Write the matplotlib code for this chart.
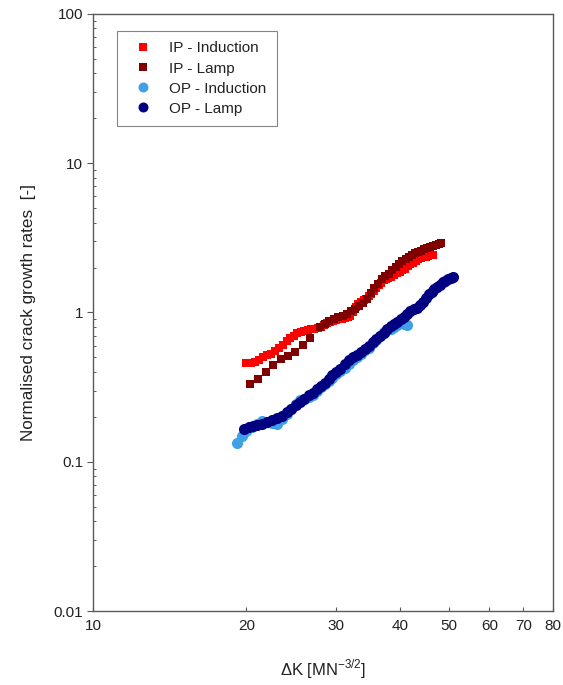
import matplotlib
matplotlib.use("Agg")
import matplotlib.pyplot as plt
from matplotlib.ticker import FixedLocator, FixedFormatter, LogLocator, NullFormatter, NullLocator

plt.rcParams['font.family'] = ['Liberation Sans', 'DejaVu Sans']
plt.rcParams['mathtext.fontset'] = 'custom'
plt.rcParams['mathtext.rm'] = 'Liberation Sans'

# IP - Induction
ip_ind_dk = [20.0, 20.4, 20.8, 21.2, 21.6, 22.0, 22.4, 22.8, 23.2, 23.6, 24.0, 24.4, 24.8,
             25.2, 25.6, 26.0, 26.4, 26.8, 27.2, 27.6, 28.0, 28.4, 28.8, 29.2, 29.6, 30.0,
             30.4, 30.8, 31.2, 31.6, 32.0, 32.4, 32.8, 33.2, 33.6, 34.0, 34.4, 34.8, 35.2,
             35.6, 36.0, 36.4, 36.8, 37.2, 37.6, 38.0, 38.5, 39.0, 39.5, 40.0, 40.5, 41.0,
             41.5, 42.0, 42.5, 43.0, 43.5, 44.0, 44.5, 45.0, 45.5, 46.0, 46.5]
ip_ind_rate = [0.46, 0.46, 0.465, 0.48, 0.50, 0.52, 0.53, 0.55, 0.58, 0.61, 0.645, 0.67, 0.70,
               0.73, 0.745, 0.755, 0.765, 0.77, 0.78, 0.785, 0.80, 0.82, 0.845, 0.86, 0.875, 0.89,
               0.90, 0.91, 0.92, 0.93, 0.95, 1.00, 1.09, 1.14, 1.18, 1.21, 1.24, 1.28, 1.33,
               1.40, 1.46, 1.52, 1.58, 1.64, 1.68, 1.71, 1.74, 1.79, 1.84, 1.88, 1.92, 1.97,
               2.04, 2.10, 2.16, 2.22, 2.27, 2.31, 2.34, 2.37, 2.40, 2.42, 2.43]

# IP - Lamp
ip_lamp_dk = [20.3, 21.1, 21.9, 22.6, 23.4, 24.1, 24.9, 25.8, 26.7, 27.9, 28.5, 29.1, 29.7,
              30.3, 30.9, 31.5, 32.1, 32.7, 33.3, 33.9, 34.5, 35.1, 35.7, 36.3, 36.9, 37.5,
              38.1, 38.7, 39.3, 39.9, 40.5, 41.1, 41.7, 42.3, 42.9, 43.5, 44.1, 44.7, 45.3,
              45.9, 46.5, 47.1, 47.7, 48.3]
ip_lamp_rate = [0.332, 0.358, 0.399, 0.445, 0.488, 0.51, 0.545, 0.605, 0.675, 0.80, 0.84, 0.875, 0.90,
                0.93, 0.95, 0.98, 1.02, 1.06, 1.10, 1.15, 1.24, 1.36, 1.45, 1.55, 1.68, 1.75,
                1.82, 1.92, 2.02, 2.12, 2.20, 2.28, 2.36, 2.43, 2.50, 2.55, 2.60, 2.65, 2.70,
                2.74, 2.78, 2.83, 2.88, 2.92]

# OP - Induction
op_ind_dk = [19.2, 19.6, 20.0, 20.5, 21.0, 21.5, 22.0, 22.5, 23.0, 23.5, 24.0, 24.5, 25.0,
             25.5, 26.0, 26.5, 27.0, 27.5, 28.0, 28.5, 29.0, 29.5, 30.0, 30.6, 31.2, 31.8,
             32.4, 33.0, 33.6, 34.2, 34.8, 35.4, 36.0, 36.6, 37.2, 37.8, 38.4, 39.0, 39.6,
             40.2, 40.8, 41.4]
op_ind_rate = [0.134, 0.148, 0.160, 0.170, 0.180, 0.188, 0.186, 0.182, 0.180, 0.192, 0.208, 0.225, 0.245,
               0.258, 0.262, 0.270, 0.282, 0.300, 0.318, 0.330, 0.345, 0.365, 0.385, 0.405, 0.425, 0.455,
               0.48, 0.50, 0.53, 0.56, 0.58, 0.62, 0.65, 0.70, 0.74, 0.76, 0.78, 0.80, 0.83,
               0.86, 0.84, 0.82]

# OP - Lamp
op_lamp_dk = [19.8, 20.2, 20.6, 21.0, 21.5, 22.0, 22.5, 23.0, 23.5, 24.0, 24.5, 25.0, 25.5,
              26.0, 26.5, 27.0, 27.5, 28.0, 28.5, 29.0, 29.5, 30.0, 30.6, 31.2, 31.8, 32.4,
              33.0, 33.6, 34.2, 34.8, 35.4, 36.0, 36.6, 37.2, 37.8, 38.4, 39.0, 39.6, 40.2,
              40.8, 41.4, 42.0, 42.6, 43.2, 43.8, 44.4, 45.0, 45.6, 46.2, 46.8, 47.4, 48.0,
              48.6, 49.2, 49.8, 50.4, 51.0]
op_lamp_rate = [0.166, 0.170, 0.173, 0.176, 0.180, 0.185, 0.190, 0.196, 0.204, 0.214, 0.226, 0.240, 0.252,
                0.265, 0.278, 0.291, 0.305, 0.320, 0.337, 0.36, 0.38, 0.40, 0.42, 0.45, 0.48, 0.50,
                0.52, 0.545, 0.57, 0.60, 0.63, 0.66, 0.70, 0.73, 0.77, 0.81, 0.84, 0.87, 0.90,
                0.94, 0.98, 1.02, 1.05, 1.08, 1.12, 1.18, 1.25, 1.32, 1.38, 1.44, 1.49, 1.54,
                1.59, 1.63, 1.67, 1.70, 1.73]

x_ticks = [10, 20, 30, 40, 50, 60, 70, 80]
y_ticks = [0.01, 0.1, 1, 10, 100]
y_tick_labels = ['0.01', '0.1', '1', '10', '100']

text_col = '#222222'
spine_col = '#5a5a5a'

fig = plt.figure(figsize=(5.63, 6.85), dpi=100)
ax = fig.add_axes([0.1652, 0.108, 0.817, 0.8716])

ax.plot(ip_ind_dk, ip_ind_rate, 's', color='#ff0000', markersize=5.8, markeredgewidth=0,
        label='IP - Induction')
ax.plot(ip_lamp_dk, ip_lamp_rate, 's', color='#800000', markersize=5.8, markeredgewidth=0,
        label='IP - Lamp')
ax.plot(op_ind_dk, op_ind_rate, 'o', color='#3fa0e6', markersize=8, markeredgewidth=0,
        label='OP - Induction')
ax.plot(op_lamp_dk, op_lamp_rate, 'o', color='#000080', markersize=8, markeredgewidth=0,
        label='OP - Lamp')

ax.set_xscale('log')
ax.set_yscale('log')
ax.set_xlim(10, 80)
ax.set_ylim(0.01, 100)

ax.xaxis.set_major_locator(FixedLocator(x_ticks))
ax.xaxis.set_major_formatter(FixedFormatter([str(v) for v in x_ticks]))
ax.xaxis.set_minor_locator(NullLocator())
ax.yaxis.set_major_locator(FixedLocator(y_ticks))
ax.yaxis.set_major_formatter(FixedFormatter(y_tick_labels))
ax.yaxis.set_minor_locator(LogLocator(base=10, subs=range(2, 10)))
ax.yaxis.set_minor_formatter(NullFormatter())

ax.tick_params(axis='x', which='major', direction='in', length=3, width=0.8,
               color=spine_col, labelsize=11, labelcolor=text_col, pad=6)
ax.tick_params(axis='y', which='major', direction='out', length=4, width=0.8,
               color=spine_col, labelsize=11, labelcolor=text_col, pad=3)
ax.tick_params(axis='y', which='minor', direction='in', length=2.5, width=0.7,
               color=spine_col)

for sp in ax.spines.values():
    sp.set_color(spine_col)
    sp.set_linewidth(1.0)

ax.set_xlabel('ΔK [MN$^{\\mathregular{-3/2}}$]', fontsize=12, color=text_col, labelpad=17)
ax.set_ylabel('Normalised crack growth rates  [-]', fontsize=12.3, color=text_col, labelpad=13)

leg = ax.legend(loc='upper left', bbox_to_anchor=(0.035, 0.9835), fontsize=11,
                frameon=True, fancybox=False, edgecolor='#666666', borderpad=0.65,
                handletextpad=0.6, labelspacing=0.4, markerscale=0.9, handlelength=2.2)
leg.get_frame().set_linewidth(0.8)
for t in leg.get_texts():
    t.set_color(text_col)

fig.savefig('out.png', dpi=100)
